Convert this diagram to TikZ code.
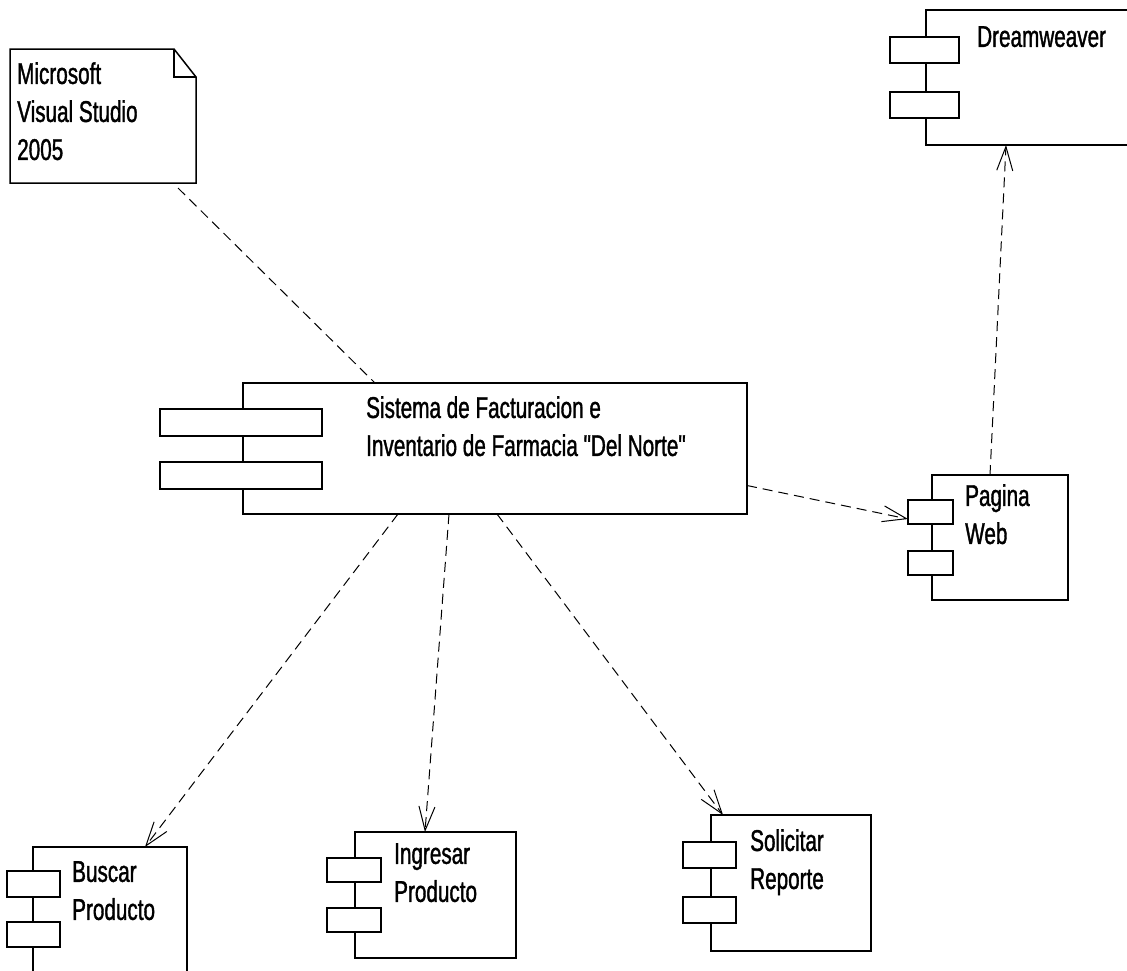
\documentclass[tikz,border=0pt]{standalone}
\usepackage{fontspec}
\setmainfont{Liberation Sans}[FakeStretch=0.69,FakeBold=1.2]
\newfontfamily\plainq{Liberation Sans}[FakeStretch=0.69,FakeBold=1.2]
\usetikzlibrary{arrows.meta}
\begin{document}
\begin{tikzpicture}[x=1pt,y=-1pt,
  lbl/.style={anchor=north west, inner sep=0pt, align=left, font=\fontsize{30}{38}\selectfont},
  cbox/.style={draw, line width=1.5pt, fill=white, anchor=north west, inner sep=0pt, outer sep=0pt},
  port/.style={draw, line width=1.5pt, fill=white, anchor=north west, inner sep=0pt, outer sep=0pt},
  dep/.style={draw, line width=1pt, dash pattern=on 10pt off 6pt},
  arr/.style={dep, -{Straight Barb[length=24pt,width=16pt,line width=1pt]}}
]
\useasboundingbox (0,0) rectangle (1127,970);
\clip (0,0) rectangle (1127,970);
\fill[white] (0,0) rectangle (1127,970);

% note
\node[inner sep=0pt, outer sep=0pt, anchor=north west, minimum width=186pt, minimum height=134pt] (note) at (10,49) {};
\draw[line width=1.5pt] (note.north west) -- ([xshift=-22pt]note.north east) -- ([yshift=-28pt]note.north east) -- (note.south east) -- (note.south west) -- cycle;
\draw[line width=1.2pt] ([xshift=-22pt]note.north east) |- ([yshift=-28pt]note.north east);
\node[lbl] (notelbl) at (17,62) {Microsoft\\Visual Studio\\2005};

% main component
\node[cbox, minimum width=504pt, minimum height=131pt] (main) at (243,383) {};
\node[port, minimum width=162pt, minimum height=27pt] (mp1) at (160,409) {};
\node[port, minimum width=162pt, minimum height=27pt] (mp2) at (160,462) {};
\node[lbl] (mainlbl) at (366,396) {Sistema de Facturacion e\\Inventario de Farmacia {\plainq"}Del Norte{\plainq"}};

% Dreamweaver
\node[cbox, minimum width=260pt, minimum height=135pt] (dw) at (926,10) {};
\node[port, minimum width=69pt, minimum height=26pt] (dwp1) at (890,37) {};
\node[port, minimum width=69pt, minimum height=26pt] (dwp2) at (890,92) {};
\node[lbl] (dwlbl) at (977,26) {Dreamweaver};

% Pagina Web
\node[cbox, minimum width=136pt, minimum height=125pt] (pw) at (932,475) {};
\node[port, minimum width=45pt, minimum height=24pt] (pwp1) at (908,500) {};
\node[port, minimum width=45pt, minimum height=24pt] (pwp2) at (908,551) {};
\node[lbl] (pwlbl) at (965,484) {Pagina\\Web};

% Buscar Producto
\node[cbox, minimum width=154pt, minimum height=160pt] (bus) at (33,847) {};
\node[port, minimum width=53pt, minimum height=26pt] (busp1) at (7,871) {};
\node[port, minimum width=53pt, minimum height=25pt] (busp2) at (7,922) {};
\node[lbl] (buslbl) at (72,861) {Buscar\\Producto};

% Ingresar Producto
\node[cbox, minimum width=161pt, minimum height=126pt] (ing) at (355,832) {};
\node[port, minimum width=54pt, minimum height=24pt] (ingp1) at (327,858) {};
\node[port, minimum width=54pt, minimum height=24pt] (ingp2) at (327,908) {};
\node[lbl] (inglbl) at (394,843) {Ingresar\\Producto};

% Solicitar Reporte
\node[cbox, minimum width=160pt, minimum height=136pt] (sol) at (711,815) {};
\node[port, minimum width=53pt, minimum height=26pt] (solp1) at (683,842) {};
\node[port, minimum width=53pt, minimum height=26pt] (solp2) at (683,897) {};
\node[lbl] (sollbl) at (750,829) {Solicitar\\Reporte};

% connectors
\draw[dep] ([xshift=168pt,yshift=-5pt]note.south west) -- ([xshift=132pt]main.north west);
\draw[arr] ([yshift=-37pt]main.east) -- ([yshift=-7pt]pwp1.west);
\draw[arr] ([xshift=58pt]pw.north west) -- ([xshift=80pt]dw.south west);
\draw[arr] ([xshift=155pt]main.south west) -- ([xshift=112pt]bus.north west);
\draw[arr] ([xshift=206pt]main.south west) -- ([xshift=70pt]ing.north west);
\draw[arr] ([xshift=254pt]main.south west) -- ([xshift=12pt]sol.north west);
\end{tikzpicture}
\end{document}
